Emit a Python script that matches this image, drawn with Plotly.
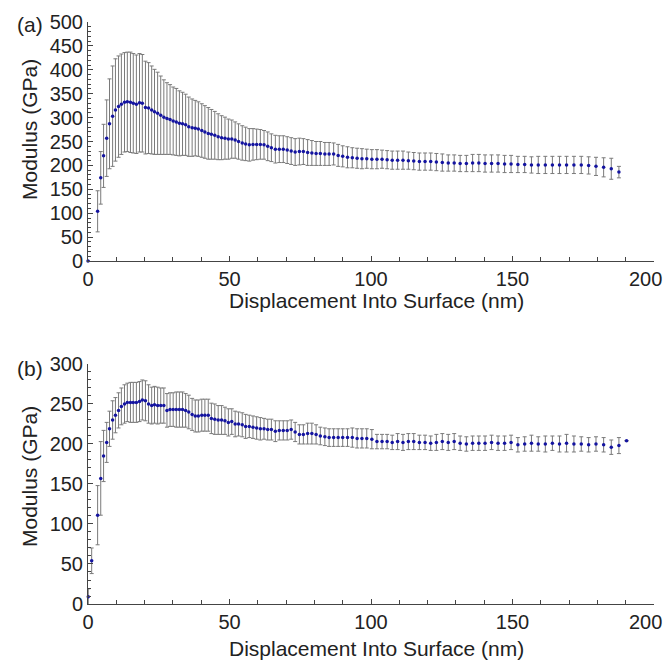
import plotly.graph_objects as go

# shared displacement grid (nm)
grid = [3.4, 4.5, 5.5, 6.6, 7.6, 8.7, 9.7, 10.8, 11.8, 12.9, 13.9, 15.0, 16.0, 17.1, 18.2, 19.2,
        20.3, 21.4, 22.5, 23.5, 24.6, 25.7, 26.8, 27.9, 29.0, 30.1, 31.2, 32.3, 33.4, 34.5, 35.6,
        36.8, 37.9, 39.0, 40.2, 41.3, 42.5, 43.6, 44.8, 46.0, 47.2, 48.4, 49.6, 50.8, 52.0, 53.2,
        54.5, 55.7, 57.0, 58.3, 59.6, 60.9, 62.2, 63.5, 64.8, 66.2, 67.6, 69.0, 70.4, 71.8, 73.2,
        74.7, 76.1, 77.6, 79.1, 80.6, 82.1, 83.7, 85.2, 86.8, 88.4, 90.0, 91.7, 93.4, 95.1, 96.8,
        98.5, 100.3, 102.1, 103.9, 105.7, 107.5, 109.4, 111.3, 113.2, 115.1, 117.1, 119.1, 121.1,
        123.1, 125.2, 127.3, 129.4, 131.5, 133.7, 135.9, 138.1, 140.3, 142.6, 144.9, 147.2, 149.5,
        151.9, 154.3, 156.7, 159.1, 161.6, 164.1, 166.6, 169.1, 171.7, 174.3, 176.9, 179.5, 182.2,
        184.9, 187.6, 190.3]

# panel (a)
xa = [0.0] + grid[:117]
ya = [0, 104, 174, 220, 257, 287, 303, 316, 323, 328, 332, 333, 332, 330, 328, 331, 330,
      321, 320, 316, 312, 309, 305, 301, 298, 296, 293, 291, 288, 287, 285, 281, 279, 278, 276,
      273, 270, 267, 265, 263, 260, 258, 257, 255, 255, 253, 250, 247, 245, 243, 244, 244, 244,
      243, 240, 237, 234, 234, 234, 232, 230, 228, 229, 229, 227, 226, 225, 225, 224, 224, 224,
      221, 219, 217, 216, 215, 214, 214, 213, 213, 213, 212, 211, 211, 211, 210, 209, 208, 208,
      208, 207, 206, 205, 205, 204, 204, 205, 205, 204, 204, 204, 203, 203, 202, 202, 201, 201,
      201, 201, 201, 201, 201, 201, 200, 198, 196, 193, 186]
ea = [0, 43, 55, 66, 80, 94, 105, 107, 106, 105, 104, 104, 105, 104, 103, 103, 102,
      97, 95, 92, 89, 86, 82, 78, 75, 73, 71, 70, 68, 66, 64, 62, 60, 58, 57,
      56, 55, 54, 52, 50, 48, 46, 44, 42, 40, 38, 37, 36, 35, 34, 33, 32, 31,
      30, 30, 29, 29, 28, 28, 28, 28, 28, 28, 27, 27, 26, 25, 25, 24, 24, 23,
      23, 22, 22, 21, 21, 21, 20, 20, 20, 19, 19, 19, 19, 19, 18, 18, 18, 18,
      18, 18, 18, 17, 17, 17, 17, 18, 18, 18, 18, 18, 18, 18, 17, 17, 17, 18,
      18, 18, 18, 18, 18, 18, 18, 19, 20, 22, 12]

# panel (b)
xb = [0.1, 1.3] + grid
yb = [9, 54, 111, 157, 185, 202, 219, 230, 236, 242, 247, 250, 252, 252, 252, 252, 253, 255,
      254, 250, 248, 249, 248, 248, 248, 242, 243, 243, 243, 243, 243, 242, 240, 237, 235, 235,
      236, 236, 236, 232, 231, 230, 230, 229, 227, 228, 225, 225, 224, 222, 222, 221, 220, 219,
      219, 218, 218, 216, 217, 217, 217, 218, 215, 212, 212, 213, 213, 212, 210, 209, 208, 208,
      208, 208, 208, 208, 207, 207, 207, 206, 203, 203, 203, 202, 203, 202, 203, 203, 202, 202,
      201, 202, 203, 202, 203, 201, 200, 201, 201, 201, 202, 201, 201, 202, 199, 200, 201, 200,
      200, 201, 200, 201, 200, 200, 199, 200, 199, 196, 198, 204]
eb = [10, 16, 37, 46, 32, 25, 22, 24, 22, 22, 23, 24, 24, 25, 25, 25, 25, 25,
      25, 24, 23, 23, 23, 22, 22, 21, 21, 21, 22, 22, 22, 21, 21, 20, 20, 20,
      20, 20, 20, 19, 19, 18, 18, 17, 17, 16, 16, 15, 15, 15, 14, 14, 14, 14,
      13, 13, 13, 13, 12, 12, 12, 12, 12, 12, 12, 13, 13, 12, 11, 11, 11, 11,
      11, 11, 11, 12, 12, 12, 12, 12, 9, 9, 9, 9, 10, 10, 10, 10, 9, 9,
      9, 10, 10, 10, 10, 9, 9, 9, 9, 9, 9, 9, 9, 9, 9, 9, 10, 9,
      10, 9, 10, 11, 10, 9, 9, 9, 9, 9, 10, 0]

x_ticks = [0, 50, 100, 150, 200]
x_ticktext = ["0", "50", "100", "150", "200\u00a0\u00a0\u00a0"]
ya_ticks = [0, 50, 100, 150, 200, 250, 300, 350, 400, 450, 500]
yb_ticks = [0, 50, 100, 150, 200, 250, 300]

FONT = "Arial, Liberation Sans, sans-serif"
MARK = "#1414a0"
BAR = "#7a7a7a"

fig = go.Figure()
for xs, ys, es, xa_, ya_ in [(xa, ya, ea, "x", "y"), (xb, yb, eb, "x2", "y2")]:
    fig.add_trace(go.Scatter(
        x=xs, y=ys, mode="markers", xaxis=xa_, yaxis=ya_,
        marker=dict(color=MARK, size=3.5),
        error_y=dict(type="data", array=es, visible=True, color=BAR, thickness=1, width=2),
        cliponaxis=False, showlegend=False))

axis_common = dict(showline=True, linecolor="#444", linewidth=1, ticks="inside", ticklen=5,
                   tickcolor="#444", showgrid=False, zeroline=False, automargin=False,
                   tickfont=dict(family=FONT, size=20, color="#222"))
xaxis_common = dict(axis_common, range=[0, 200], tickvals=x_ticks, ticktext=x_ticktext,
                    domain=[0, 1], ticklabeloverflow="allow",
                    minor=dict(dtick=10, ticks="inside", ticklen=4, tickcolor="#444"))

fig.update_layout(
    width=666, height=660, margin=dict(l=88, r=12, t=22, b=56),
    paper_bgcolor="white", plot_bgcolor="white",
    xaxis=dict(xaxis_common, anchor="y"),
    yaxis=dict(axis_common, range=[0, 500], tickvals=ya_ticks, domain=[0.5893, 1], anchor="x",
               minor=dict(dtick=10, ticks="inside", ticklen=3, tickcolor="#444")),
    xaxis2=dict(xaxis_common, anchor="y2"),
    yaxis2=dict(axis_common, range=[0, 300], tickvals=yb_ticks, domain=[0, 0.4124], anchor="x2",
                minor=dict(dtick=10, ticks="inside", ticklen=3, tickcolor="#444")),
)

tf = dict(family=FONT, size=21, color="#222")
ann = [
    dict(text="(a)", x=-0.1025, y=0.995, xref="paper", yref="paper", showarrow=False,
         font=tf, xanchor="center", yanchor="middle"),
    dict(text="(b)", x=-0.1025, y=0.404, xref="paper", yref="paper", showarrow=False,
         font=tf, xanchor="center", yanchor="middle"),
    dict(text="Modulus (GPa)", x=-0.1042, y=0.8144, xref="paper", yref="paper", showarrow=False,
         font=tf, textangle=-90, xanchor="center", yanchor="middle"),
    dict(text="Modulus (GPa)", x=-0.1042, y=0.2182, xref="paper", yref="paper", showarrow=False,
         font=tf, textangle=-90, xanchor="center", yanchor="middle"),
    dict(text="Displacement Into Surface (nm)", x=0.51, y=0.522, xref="paper", yref="paper",
         showarrow=False, font=tf, xanchor="center", yanchor="middle"),
    dict(text="Displacement Into Surface (nm)", x=0.51, y=-0.0773, xref="paper", yref="paper",
         showarrow=False, font=tf, xanchor="center", yanchor="middle"),
]
fig.update_layout(annotations=ann)
fig.write_html("out.html", config={"displayModeBar": False},
               post_script="document.body.style.margin='0';")
